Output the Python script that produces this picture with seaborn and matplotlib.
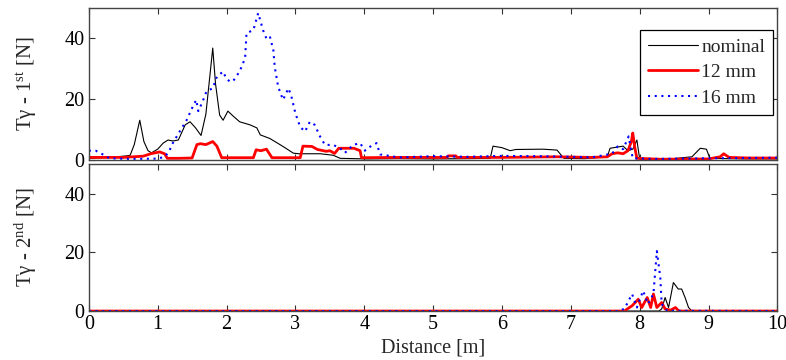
import matplotlib
matplotlib.use("Agg")
import matplotlib.pyplot as plt
import seaborn as sns
import pandas as pd

# ---- data ----
nom1_x = [0, 0.3, 0.55, 0.6, 0.66, 0.74, 0.8, 0.86, 0.91, 1.0, 1.08, 1.15, 1.22, 1.3, 1.4, 1.47, 1.55, 1.63,
          1.7, 1.76, 1.80, 1.84, 1.90, 1.95, 2.02, 2.09, 2.19, 2.34, 2.44, 2.49, 2.63, 2.82, 2.97, 3.05,
          3.36, 3.55, 3.65, 4.04, 4.5, 5.0, 5.5, 5.83, 5.87, 6.0, 6.12, 6.2, 6.6, 6.8, 6.9, 7.2, 7.53,
          7.57, 7.76, 7.83, 7.9, 7.96, 8.0, 8.4, 8.76, 8.88, 8.97, 9.02, 9.5, 10]
nom1_y = [0.5, 0.8, 1.3, 1.5, 5, 13, 6, 3, 2.3, 3.5, 5.5, 6.5, 6.2, 6.5, 11.5, 12.5, 10.5, 8,
          15, 28, 36.7, 25, 14.7, 13, 16, 14.5, 12.5, 11.5, 10.5, 8.2, 7, 4.4, 2.2, 2,
          2, 1.5, 0.5, 0.3, 0.4, 0.3, 0.4, 0.5, 4.5, 4.0, 3.0, 3.4, 3.5, 3.2, 0.5, 0.4, 1,
          3.8, 4.5, 3, 3.5, 6.5, 0.3, 0.2, 1, 3.8, 3.5, 0.5, 0.3, 0.3]

red1_x = [0, 0.5, 0.79, 0.9, 1.03, 1.1, 1.14, 1.3, 1.5, 1.57, 1.62, 1.7, 1.8, 1.86, 1.93, 2.1, 2.39,
          2.43, 2.5, 2.58, 2.66, 2.9, 3.07, 3.11, 3.24, 3.32, 3.45, 3.5, 3.57, 3.63, 3.85, 3.94, 3.96,
          4.5, 5.2, 5.22, 5.33, 5.35, 6.0, 6.8, 7.3, 7.53, 7.6, 7.68, 7.76, 7.83, 7.88, 7.9, 7.93,
          7.96, 8.3, 9.0, 9.17, 9.22, 9.3, 9.6, 10]
red1_y = [0.8, 0.8, 1.2, 2.0, 2.6, 2.0, 0.5, 0.5, 0.6, 5.0, 5.3, 5.0, 6.0, 4.5, 0.7, 0.7, 0.7,
          3.3, 3.0, 3.5, 0.7, 0.7, 0.7, 4.5, 4.4, 3.4, 2.8, 3.0, 2.1, 3.8, 3.8, 3.0, 0.7,
          0.8, 0.8, 1.3, 1.3, 0.8, 0.8, 1.0, 0.8, 1.0, 2.0, 2.3, 2.0, 3.0, 6.0, 8.8, 4.0,
          0.5, 0.2, 0.3, 1.0, 2.0, 0.8, 0.6, 0.6]

blue1_x = [0, 0.1, 0.21, 0.3, 0.6, 1.0, 1.1, 1.16, 1.22, 1.32, 1.42, 1.51, 1.56, 1.59, 1.65, 1.71,
           1.80, 1.86, 1.95, 1.99, 2.05, 2.10, 2.19, 2.27, 2.29, 2.39, 2.46, 2.53, 2.58, 2.63, 2.68,
           2.70, 2.75, 2.82, 2.90, 2.94, 3.0, 3.07, 3.14, 3.21, 3.28, 3.36, 3.43, 3.55, 3.65, 3.72,
           3.84, 3.94, 4.01, 4.06, 4.18, 4.23, 4.5, 5.0, 5.5, 6.0, 6.5, 7.0, 7.3, 7.6, 7.68, 7.76,
           7.84, 7.87, 7.9, 8.2, 9.0, 9.5, 10]
blue1_y = [3, 3, 1.7, 0.5, 0.3, 0.4, 1.0, 2.5, 5.5, 9.3, 13, 17.5, 19.7, 16, 19, 22.5,
           23.5, 27.3, 29, 27, 25.6, 26, 29, 33.4, 41.6, 42.6, 48.2, 42.6, 39.8, 40.5, 36,
           30.5, 24, 19.7, 23.5, 21, 15.3, 10.8, 9.3, 12.5, 11.5, 7.6, 4.9, 4.9, 3.8, 2.3,
           4.9, 5.5, 3, 4, 5.5, 1.8, 0.8, 1.2, 1.0, 1.3, 1.2, 1.0, 0.8, 2, 4.4, 3.5,
           7.7, 4, 0.5, 0.3, 0.5, 0.6, 0.7]

nom2_x = [0, 8.28, 8.32, 8.37, 8.42, 8.49, 8.56, 8.61, 8.66, 8.71, 8.76, 10]
nom2_y = [0, 0, 0.7, 4.6, 1.2, 9.7, 7.5, 7.5, 4.6, 1.2, 0, 0]
red2_x = [0, 7.78, 7.82, 7.89, 7.98, 8.03, 8.11, 8.16, 8.2, 8.25, 8.32, 8.37, 8.45, 8.52, 8.57, 10]
red2_y = [0, 0, 0.7, 1.8, 4, 1.2, 4.6, 1.2, 5.8, 1.2, 2.9, 0.7, 0.3, 1.2, 0, 0]
blue2_x = [0, 7.7, 7.78, 7.89, 7.96, 8.05, 8.12, 8.2, 8.25, 8.3, 8.32, 8.4, 10]
blue2_y = [0, 0, 0.8, 5.8, 1.2, 6.9, 2.4, 5.8, 20.4, 11.4, 2.4, 0.1, 0]

series_labels = ["nominal", "12 mm", "16 mm"]
x_ticks = [0, 1, 2, 3, 4, 5, 6, 7, 8, 9, 10]
y_ticks = [0, 20, 40]

# ---- style ----
sns.set_style("ticks")
plt.rcParams["font.family"] = ["Liberation Serif", "DejaVu Serif"]
plt.rcParams["mathtext.fontset"] = "custom"
plt.rcParams["mathtext.rm"] = "Liberation Serif"
plt.rcParams["mathtext.it"] = "Liberation Serif:italic"
plt.rcParams["font.size"] = 14

fig = plt.figure(figsize=(7.86, 3.6), dpi=100)
ax1 = fig.add_axes([0.113, 0.556, 0.876, 0.423])
ax2 = fig.add_axes([0.113, 0.136, 0.876, 0.408])

styles = [
    dict(color="black", lw=0.8, linestyle="-"),
    dict(color="#ff0000", lw=2.0, linestyle="-"),
    dict(color="#0000ff", lw=1.5, linestyle=(0, (1, 2.2))),
]

top = [(nom1_x, nom1_y), (red1_x, red1_y), (blue1_x, blue1_y)]
bot = [(nom2_x, nom2_y), (red2_x, red2_y), (blue2_x, blue2_y)]

for ax, sets, lab in [(ax1, top, True), (ax2, bot, False)]:
    for (xs, ys), st, name in zip(sets, styles, series_labels):
        df = pd.DataFrame({"x": xs, "y": ys})
        sns.lineplot(data=df, x="x", y="y", ax=ax, estimator=None, sort=False,
                     label=name if lab else None, legend=False, **st)
    ax.set_xlim(0, 10)
    ax.set_ylim(0, 50)
    ax.set_xticks(x_ticks)
    ax.set_yticks(y_ticks)
    ax.tick_params(direction="in", top=True, right=True, length=4, width=0.8,
                   labelsize=14.5, colors="#333333", labelcolor="black", pad=3)
    for sp in ax.spines.values():
        sp.set_visible(True)
        sp.set_color("#444444")
        sp.set_linewidth(1.0)
    ax.set_xlabel("")

ax1.tick_params(labelbottom=False)
ax1.set_ylabel("T\u03b3 - 1$^{\\mathrm{st}}$ [N]", fontsize=15)
ax2.set_ylabel("T\u03b3 - 2$^{\\mathrm{nd}}$ [N]", fontsize=15)
ax1.yaxis.set_label_coords(-0.072, 0.5)
ax2.yaxis.set_label_coords(-0.072, 0.5)
ax2.set_xlabel("Distance [m]", fontsize=14.5, labelpad=3)

leg = ax1.legend(loc="upper right", bbox_to_anchor=(0.994, 0.852), borderaxespad=0,
                 fancybox=False, framealpha=1, edgecolor="black", fontsize=14,
                 handlelength=2.6, handletextpad=0.15, borderpad=0.42, labelspacing=0.4)
leg.get_frame().set_linewidth(0.9)

fig.savefig("out.png", dpi=100)
